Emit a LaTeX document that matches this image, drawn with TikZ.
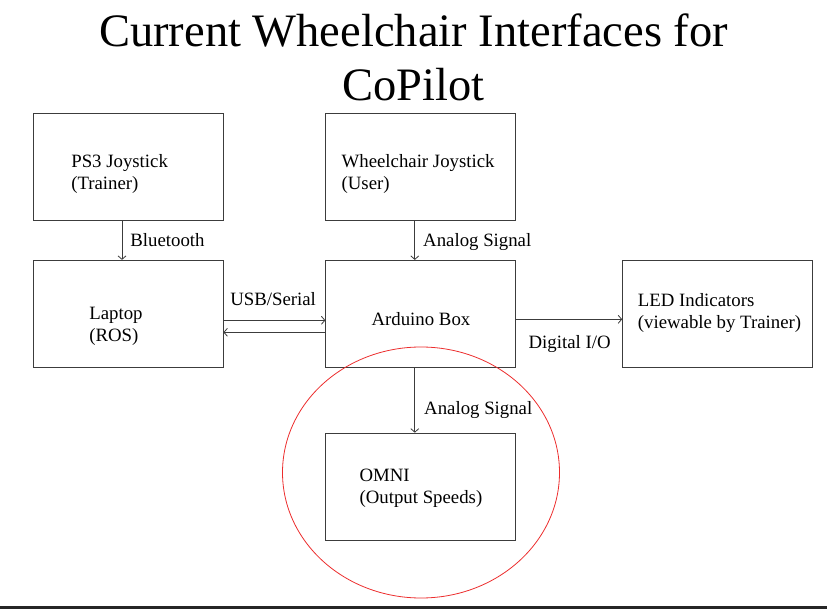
\documentclass[tikz,border=0pt]{standalone}
\usepackage{fontspec}
\setmainfont{Liberation Serif}
\usepackage{tikz}
\usetikzlibrary{positioning,arrows.meta,shapes.geometric,calc}
\definecolor{ringred}{RGB}{236,45,45}
\definecolor{linegray}{RGB}{60,60,60}
\newcommand{\boxfont}{\fontsize{18.8}{21.5}\selectfont}
\newcommand{\titlefont}{\fontsize{46.5}{54}\selectfont}
\tikzset{
  box/.style={draw=linegray,line width=0.8pt,minimum width=190pt,minimum height=107pt,inner sep=0pt},
  txt/.style={font=\boxfont,align=left,inner sep=0pt,anchor=base west},
  lbl/.style={font=\boxfont,inner sep=0pt,anchor=base west},
  arr/.style={-{Straight Barb[length=3.5pt,width=8pt]},draw=linegray,line width=0.8pt},
  ring/.style={draw=ringred,ellipse,line width=0.8pt,minimum width=277pt,minimum height=251pt}
}

\begin{document}
\begin{tikzpicture}[x=1pt,y=-1pt,node distance=39pt and 102pt]
\useasboundingbox (0,0) rectangle (827,609);
% base of a two-line node sits on its last line
\node[font=\titlefont,align=center,inner sep=0pt,anchor=base] (title) at (413.5,100.5) {Current Wheelchair Interfaces for\\CoPilot};

\node[box] (ps3) at (128,167) {};
\node[box, right=of ps3] (wheel) {};
\node[box, below=of ps3] (laptop) {};
\node[box, right=of laptop] (ard) {};
\node[box, right=106pt of ard] (led) {};
\node[box, below=65pt of ard] (omni) {};

\node[txt] (ps3txt) at ($(ps3.north west)+(38.5,76)$) {PS3 Joystick\\(Trainer)};
\node[txt] (wheeltxt) at ($(wheel.north west)+(16,76)$) {Wheelchair Joystick\\(User)};
\node[txt] (laptoptxt) at ($(laptop.north west)+(56.5,81.5)$) {Laptop\\(ROS)};
\node[txt] (ardtxt) at ($(ard.north west)+(46,65.5)$) {Arduino Box};
\node[txt] (ledtxt) at ($(led.north west)+(15.5,68.5)$) {LED Indicators\\(viewable by Trainer)};
\node[txt] (omnitxt) at ($(omni.north west)+(34,70.5)$) {OMNI\\(Output Speeds)};

\draw[arr] ([xshift=-6pt]ps3.south) -- node[lbl, xshift=8pt, yshift=-6.5pt] (bt) {Bluetooth} ([xshift=-6pt]laptop.north);
\draw[arr] ([xshift=-6pt]wheel.south) -- node[lbl, xshift=8pt, yshift=-6.5pt] (sig1) {Analog Signal} ([xshift=-6pt]ard.north);
\draw[arr] ([yshift=-6.5pt]laptop.east) -- node[lbl, pos=0, xshift=6.5pt, yshift=15pt] (usb) {USB/Serial} ([yshift=-6.5pt]ard.west);
\draw[arr] ([yshift=-18.5pt]ard.west) -- ([yshift=-18.5pt]laptop.east);
\draw[arr] ([yshift=-5.5pt]ard.east) -- node[lbl, pos=0, xshift=12pt, yshift=-29pt] (dio) {Digital I/O} ([yshift=-5.5pt]led.west);
\draw[arr] ([xshift=-6pt]ard.south) -- node[lbl, xshift=9pt, yshift=-14pt] (sig2) {Analog Signal} ([xshift=-6pt]omni.north);

\node[ring] (ring) at (421,472.5) {};
\draw[line width=3pt, draw=black!85] (0,607.5) -- (827,607.5);
\end{tikzpicture}
\end{document}
